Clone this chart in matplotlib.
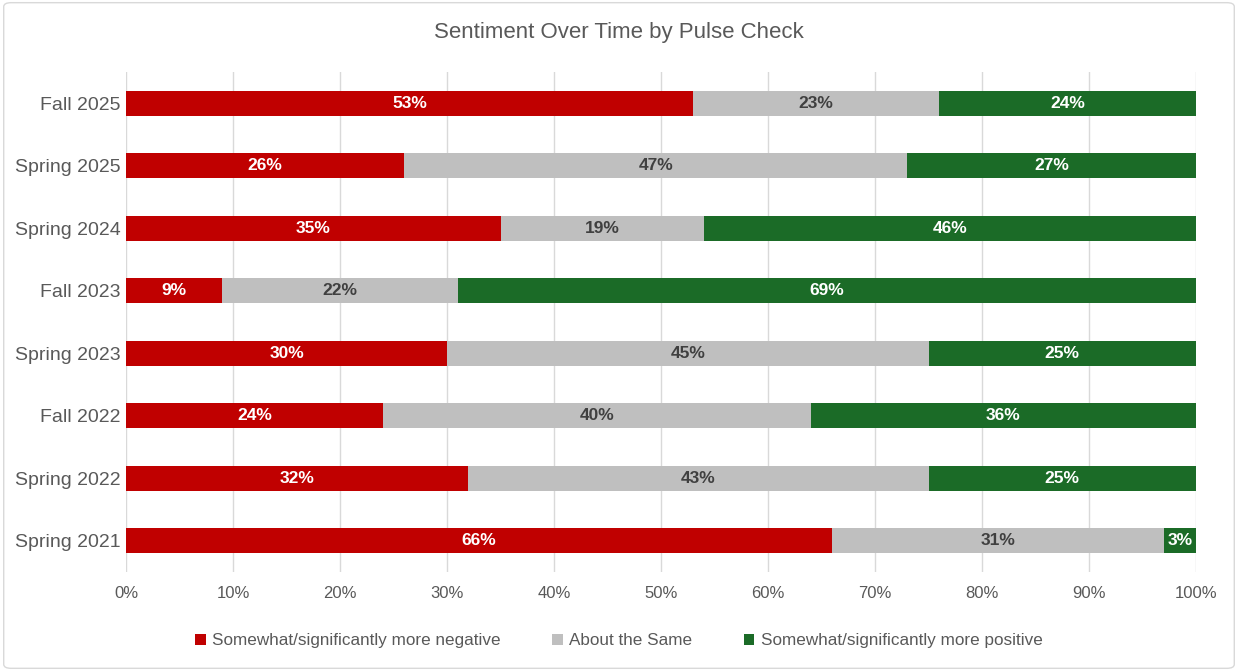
import matplotlib
matplotlib.use('Agg')
import matplotlib.pyplot as plt
from matplotlib.patches import FancyBboxPatch
import numpy as np

categories = ['Fall 2025', 'Spring 2025', 'Spring 2024', 'Fall 2023',
              'Spring 2023', 'Fall 2022', 'Spring 2022', 'Spring 2021']
negative = [53, 26, 35, 9, 30, 24, 32, 66]
same = [23, 47, 19, 22, 45, 40, 43, 31]
positive = [24, 27, 46, 69, 25, 36, 25, 3]
series_names = ['Somewhat/significantly more negative', 'About the Same',
                'Somewhat/significantly more positive']

plt.rcParams['font.family'] = ['Liberation Sans', 'DejaVu Sans']

fig = plt.figure(figsize=(12.38, 6.71), dpi=100)
ax = fig.add_axes([0.1018, 0.1475, 0.8643, 0.7455])

colors = ['#C00000', '#BFBFBF', '#1B6B27']
text_colors = ['white', '#404040', 'white']
y = np.arange(len(categories))
left = np.zeros(len(categories))
for vals, name, c, tc in zip([negative, same, positive], series_names, colors, text_colors):
    vals = np.array(vals)
    ax.barh(y, vals, left=left, height=0.4, color=c, label=name, zorder=3)
    for yi, l, v in zip(y, left, vals):
        ax.text(l + v / 2, yi, f'{v}%', ha='center', va='center', color=tc,
                fontsize=12.5, fontweight='bold', zorder=4)
    left += vals

ax.set_xlim(0, 100)
ax.set_ylim(len(categories) - 0.5, -0.5)
ax.set_yticks(y)
ax.set_yticklabels(categories)
ax.set_xticks(np.arange(0, 101, 10))
ax.set_xticklabels([f'{t}%' for t in range(0, 101, 10)])
ax.tick_params(length=0, labelcolor='#595959')
ax.tick_params(axis='x', pad=10, labelsize=12)
ax.tick_params(axis='y', pad=4, labelsize=14)
ax.grid(axis='x', color='#D9D9D9', linewidth=1, zorder=0)
for s in ax.spines.values():
    s.set_visible(False)

fig.text(0.5, 0.952, 'Sentiment Over Time by Pulse Check', fontsize=16, color='#595959',
         ha='center', va='center')

leg = fig.legend(loc='center', bbox_to_anchor=(0.5, 0.045), ncol=3, frameon=False,
                 fontsize=12.3, handlelength=0.6, handleheight=0.6, columnspacing=3.0,
                 handletextpad=0.4)
for t in leg.get_texts():
    t.set_color('#595959')

border = FancyBboxPatch((0.003, 0.004), 0.994, 0.992, boxstyle='round,pad=0,rounding_size=0.006',
                        transform=fig.transFigure, fill=False, edgecolor='#D9D9D9', linewidth=1)
fig.patches.append(border)

fig.savefig('out.png', dpi=100)
